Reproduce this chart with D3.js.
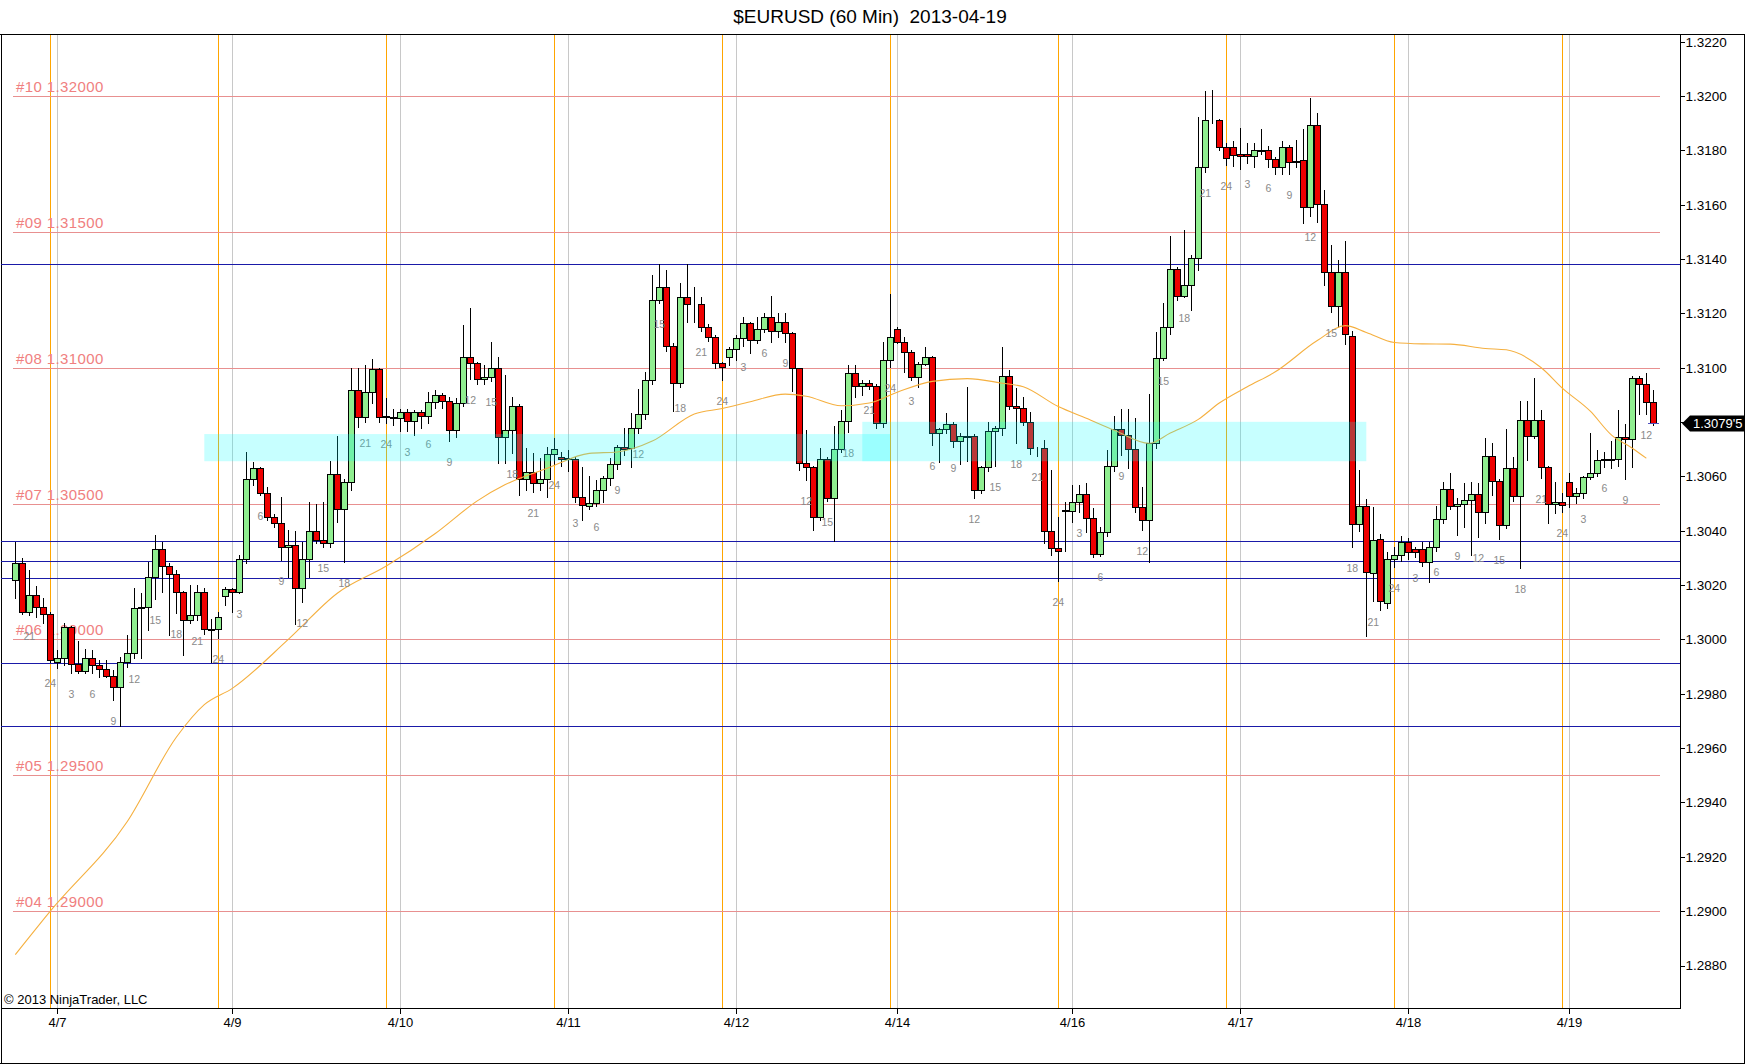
<!DOCTYPE html>
<html><head><meta charset="utf-8">
<script src="https://cdn.jsdelivr.net/npm/d3@7"></script>
<style>body{margin:0;background:#fff}svg{display:block}</style>
</head><body>
<svg id="c" width="1752" height="1064"></svg>
<script>
// ---------------- DATA ----------------
const title = "$EURUSD (60 Min)  2013-04-19";
const firstHour = 19; // hour of candle 0
const open = [
1.30219,1.30280,1.30101,1.30163,1.30118,1.30093,1.29916,1.29931,1.30045,1.29910,
1.29883,1.29933,1.29906,1.29890,1.29867,1.29824,1.29917,1.29949,1.30115,1.30118,
1.30231,1.30333,1.30271,1.30240,1.30174,1.30072,1.30090,1.30174,1.30037,1.30037,
1.30160,1.30184,1.30176,1.30295,1.30589,1.30630,1.30540,1.30452,1.30427,1.30339,
1.30348,1.30188,1.30295,1.30399,1.30366,1.30354,1.30609,1.30479,1.30578,1.30918,
1.30820,1.30910,1.30995,1.30822,1.30814,1.30814,1.30838,1.30805,1.30838,1.30822,
1.30875,1.30901,1.30878,1.30771,1.30872,1.31041,1.31016,1.30957,1.30967,1.30998,
1.30746,1.30771,1.30859,1.30589,1.30618,1.30577,1.30589,1.30681,1.30673,1.30667,
1.30663,1.30523,1.30493,1.30503,1.30550,1.30593,1.30644,1.30707,1.30703,1.30777,
1.30829,1.30955,1.31249,1.31296,1.31081,1.30943,1.31262,1.31235,1.31235,1.31149,
1.31114,1.31016,1.31041,1.31068,1.31108,1.31164,1.31102,1.31142,1.31186,1.31135,
1.31170,1.31127,1.30998,1.30648,1.30634,1.30450,1.30663,1.30522,1.30700,1.30805,
1.30979,1.30931,1.30945,1.30931,1.30798,1.31029,1.31142,1.31096,1.31059,1.30967,
1.31013,1.31038,1.30761,1.30773,1.30792,1.30730,1.30749,1.30748,1.30550,1.30636,
1.30768,1.30777,1.30969,1.30860,1.30853,1.30799,1.30706,1.30703,1.30399,1.30338,
1.30473,1.30473,1.30507,1.30534,1.30448,1.30313,1.30394,1.30638,1.30773,1.30752,
1.30700,1.30489,1.30439,1.30722,1.31037,1.31149,1.31362,1.31264,1.31305,1.31403,
1.31738,1.31912,1.31912,1.31811,1.31813,1.31786,1.31786,1.31780,1.31801,1.31800,
1.31770,1.31737,1.31811,1.31756,1.31764,1.31590,1.31892,1.31602,1.31352,1.31227,
1.31352,1.31118,1.30424,1.30491,1.30245,1.30368,1.30134,1.30295,1.30311,1.30357,
1.30332,1.30332,1.30286,1.30339,1.30442,1.30553,1.30491,1.30499,1.30513,1.30534,
1.30470,1.30675,1.30583,1.30421,1.30630,1.30528,1.30808,1.30749,1.30808,1.30634,
1.30499,1.30507,1.30578,1.30528,1.30538,1.30597,1.30612,1.30661,1.30664,1.30663,
1.30746,1.30737,1.30961,1.30940,1.30875];
const high = [
1.30360,1.30299,1.30256,1.30197,1.30151,1.30100,1.29960,1.30062,1.30050,1.29994,
1.29964,1.29961,1.29924,1.29924,1.29888,1.29937,1.30016,1.30188,1.30170,1.30286,
1.30385,1.30360,1.30280,1.30255,1.30180,1.30200,1.30200,1.30190,1.30074,1.30102,
1.30192,1.30190,1.30311,1.30691,1.30654,1.30636,1.30562,1.30460,1.30526,1.30403,
1.30400,1.30360,1.30507,1.30498,1.30507,1.30657,1.30749,1.30590,1.30998,1.30998,
1.31010,1.31031,1.31000,1.30888,1.30847,1.30847,1.30847,1.30844,1.30844,1.30912,
1.30918,1.30906,1.30894,1.30888,1.31157,1.31219,1.31020,1.31010,1.31096,1.31041,
1.30973,1.30894,1.30865,1.30703,1.30685,1.30666,1.30710,1.30740,1.30690,1.30697,
1.30670,1.30636,1.30600,1.30587,1.30600,1.30666,1.30716,1.30777,1.30832,1.30921,
1.30986,1.31341,1.31381,1.31360,1.31090,1.31311,1.31381,1.31299,1.31262,1.31160,
1.31120,1.31022,1.31078,1.31120,1.31188,1.31170,1.31188,1.31200,1.31264,1.31200,
1.31203,1.31133,1.31000,1.30771,1.30640,1.30704,1.30670,1.30786,1.30845,1.31010,
1.31010,1.30955,1.30955,1.30940,1.31096,1.31272,1.31150,1.31115,1.31065,1.31020,
1.31078,1.31045,1.30780,1.30832,1.30800,1.30760,1.30928,1.30755,1.30640,1.30802,
1.30785,1.31078,1.30992,1.30924,1.30893,1.30838,1.30710,1.30734,1.30624,1.30452,
1.30505,1.30568,1.30568,1.30574,1.30482,1.30415,1.30699,1.30822,1.30850,1.30850,
1.30814,1.30562,1.30902,1.31133,1.31237,1.31485,1.31370,1.31507,1.31415,1.31924,
1.32019,1.32022,1.31915,1.31826,1.31833,1.31883,1.31829,1.31829,1.31877,1.31816,
1.31775,1.31833,1.31820,1.31837,1.31880,1.31994,1.31936,1.31653,1.31452,1.31398,
1.31465,1.31137,1.30622,1.30518,1.30488,1.30387,1.30321,1.30341,1.30379,1.30374,
1.30340,1.30360,1.30360,1.30491,1.30581,1.30612,1.30520,1.30575,1.30581,1.30575,
1.30740,1.30724,1.30590,1.30773,1.30670,1.30878,1.30878,1.30961,1.30845,1.30640,
1.30581,1.30538,1.30612,1.30556,1.30602,1.30761,1.30697,1.30690,1.30732,1.30845,
1.30793,1.30970,1.30970,1.30980,1.30918];
const low = [
1.30154,1.30095,1.30090,1.30084,1.30059,1.29918,1.29894,1.29906,1.29875,1.29878,
1.29878,1.29876,1.29863,1.29863,1.29777,1.29680,1.29900,1.29930,1.29930,1.30035,
1.30150,1.30176,1.30016,1.30096,1.29943,1.30060,1.30070,1.30020,1.29918,1.30004,
1.30127,1.30102,1.30170,1.30280,1.30568,1.30530,1.30440,1.30415,1.30292,1.30231,
1.30057,1.30139,1.30231,1.30354,1.30340,1.30340,1.30434,1.30286,1.30550,1.30783,
1.30800,1.30869,1.30800,1.30798,1.30790,1.30768,1.30768,1.30753,1.30777,1.30798,
1.30851,1.30851,1.30732,1.30746,1.30860,1.30960,1.30940,1.30940,1.30950,1.30648,
1.30648,1.30685,1.30532,1.30550,1.30544,1.30550,1.30525,1.30645,1.30640,1.30620,
1.30505,1.30440,1.30480,1.30490,1.30507,1.30570,1.30629,1.30680,1.30636,1.30759,
1.30810,1.30940,1.31240,1.31060,1.30842,1.30930,1.31170,1.31170,1.31135,1.31100,
1.31000,1.30955,1.31010,1.31029,1.31080,1.31053,1.31090,1.31130,1.31096,1.31115,
1.31096,1.30916,1.30624,1.30587,1.30403,1.30440,1.30510,1.30364,1.30690,1.30765,
1.30891,1.30900,1.30920,1.30780,1.30783,1.31004,1.31090,1.30986,1.30956,1.30930,
1.31010,1.30716,1.30654,1.30760,1.30710,1.30646,1.30658,1.30522,1.30540,1.30620,
1.30640,1.30752,1.30850,1.30722,1.30790,1.30681,1.30676,1.30354,1.30311,1.30215,
1.30325,1.30433,1.30470,1.30396,1.30305,1.30308,1.30382,1.30620,1.30680,1.30630,
1.30470,1.30403,1.30286,1.30703,1.31030,1.31123,1.31250,1.31260,1.31212,1.31360,
1.31720,1.31900,1.31800,1.31746,1.31744,1.31730,1.31753,1.31740,1.31786,1.31740,
1.31713,1.31713,1.31713,1.31740,1.31532,1.31559,1.31535,1.31305,1.31204,1.31151,
1.31088,1.30341,1.30400,1.30013,1.30140,1.30107,1.30114,1.30268,1.30288,1.30295,
1.30303,1.30270,1.30210,1.30325,1.30430,1.30480,1.30385,1.30415,1.30311,1.30378,
1.30428,1.30532,1.30368,1.30410,1.30510,1.30262,1.30661,1.30740,1.30593,1.30428,
1.30467,1.30470,1.30489,1.30504,1.30520,1.30590,1.30600,1.30635,1.30630,1.30640,
1.30589,1.30634,1.30830,1.30830,1.30790];
const close = [
1.30280,1.30101,1.30163,1.30118,1.30093,1.29924,1.29930,1.30045,1.29910,1.29883,
1.29933,1.29906,1.29890,1.29867,1.29824,1.29917,1.29949,1.30115,1.30118,1.30231,
1.30333,1.30271,1.30240,1.30174,1.30072,1.30090,1.30174,1.30037,1.30035,1.30084,
1.30186,1.30176,1.30295,1.30589,1.30630,1.30540,1.30452,1.30427,1.30339,1.30348,
1.30188,1.30295,1.30399,1.30366,1.30354,1.30609,1.30479,1.30578,1.30918,1.30820,
1.30910,1.30995,1.30820,1.30818,1.30818,1.30838,1.30805,1.30838,1.30822,1.30875,
1.30901,1.30878,1.30771,1.30872,1.31041,1.31016,1.30957,1.30967,1.30998,1.30746,
1.30771,1.30859,1.30589,1.30618,1.30577,1.30589,1.30681,1.30700,1.30664,1.30663,
1.30523,1.30495,1.30503,1.30550,1.30593,1.30644,1.30707,1.30701,1.30777,1.30829,
1.30955,1.31249,1.31296,1.31081,1.30943,1.31262,1.31235,1.31233,1.31149,1.31114,
1.31016,1.31002,1.31068,1.31108,1.31164,1.31102,1.31142,1.31186,1.31135,1.31170,
1.31127,1.30998,1.30648,1.30634,1.30450,1.30663,1.30522,1.30700,1.30805,1.30979,
1.30931,1.30945,1.30931,1.30798,1.31029,1.31115,1.31096,1.31059,1.30967,1.31013,
1.31038,1.30761,1.30773,1.30792,1.30730,1.30749,1.30746,1.30550,1.30636,1.30768,
1.30777,1.30969,1.30860,1.30853,1.30799,1.30706,1.30703,1.30399,1.30338,1.30325,
1.30475,1.30507,1.30534,1.30448,1.30313,1.30394,1.30638,1.30773,1.30752,1.30700,
1.30489,1.30439,1.30722,1.31037,1.31149,1.31362,1.31264,1.31305,1.31403,1.31738,
1.31912,1.31910,1.31811,1.31773,1.31782,1.31781,1.31778,1.31800,1.31799,1.31770,
1.31737,1.31811,1.31756,1.31762,1.31590,1.31892,1.31602,1.31352,1.31227,1.31352,
1.31123,1.30424,1.30491,1.30248,1.30365,1.30141,1.30295,1.30311,1.30357,1.30323,
1.30323,1.30286,1.30339,1.30442,1.30553,1.30491,1.30499,1.30513,1.30534,1.30470,
1.30675,1.30583,1.30421,1.30630,1.30528,1.30808,1.30749,1.30808,1.30634,1.30499,
1.30507,1.30495,1.30528,1.30538,1.30597,1.30612,1.30661,1.30663,1.30662,1.30746,
1.30737,1.30961,1.30940,1.30875,1.30795];

// moving average, read at sample bars
const maIdx = [0,5,16,23,27,31,39,46,53,60,66,70,76,82,86,91,97,101,105,110,113,118,122,126,131,136,141,144,149,153,157,162,165,169,172,176,180,186,190,193,197,201,205,210,213,218,221,225,228,231,233];
const maVal = [1.28840,1.29000,1.29330,1.29640,1.29760,1.29820,1.30000,1.30170,1.30270,1.30390,1.30510,1.30570,1.30630,1.30685,1.30690,1.30730,1.30830,1.30850,1.30875,1.30903,1.30895,1.30860,1.30870,1.30910,1.30950,1.30960,1.30943,1.30930,1.30857,1.30814,1.30770,1.30722,1.30760,1.30810,1.30870,1.30930,1.30985,1.31100,1.31155,1.31130,1.31093,1.31088,1.31087,1.31071,1.31066,1.31000,1.30925,1.30840,1.30753,1.30704,1.30667];

const levelVals = [1.3200,1.3150,1.3100,1.3050,1.3000,1.2950,1.2900];
const levelNames = ["#10 1.32000","#09 1.31500","#08 1.31000","#07 1.30500","#06 1.30000","#05 1.29500","#04 1.29000"];
const blueVals = [1.31381,1.30361,1.30288,1.30225,1.29912,1.29680];
const zoneFrom = [27,121], zoneTo = [125,193];
const zoneHi = [1.30756,1.30801], zoneLo = [1.30656,1.30656];
const sessionIdx = [5,29,53,77,101,125,149,173,197,221];
const dateIdx = [6,31,55,79,103,126,151,175,199,222];
const dateLabels = ["4/7","4/9","4/10","4/11","4/12","4/14","4/16","4/17","4/18","4/19"];
const yTicks = [1.2880,1.2900,1.2920,1.2940,1.2960,1.2980,1.3000,1.3020,1.3040,1.3060,1.3080,1.3100,1.3120,1.3140,1.3160,1.3180,1.3200,1.3220];
const lastLabel = "1.3079'5";
const copyright = "\u00A9 2013 NinjaTrader, LLC";

// ---------------- DRAW ----------------
const FONT = "'Liberation Sans', Arial, sans-serif";
const svg = d3.select("#c").style("font-family", FONT);
const P = {l:1, r:1680, t:35, b:1008};
const n = open.length;
const x = d3.scaleLinear().domain([0, n-1]).range([15.3, 15.3 + 7*(n-1)]);
const y = d3.scaleLinear().domain([1.2880, 1.3220]).range([965.5, 41.7]);
const X = i => Math.round(x(i));
const Y = v => Math.round(y(v));

svg.append("rect").attr("width",1752).attr("height",1064).attr("fill","#fff");

// title
svg.append("text").attr("x",870).attr("y",23).attr("text-anchor","middle")
  .attr("font-size",19).attr("fill","#000").style("white-space","pre").text(title);

// frame
const fr = svg.append("g").attr("stroke","#000").attr("stroke-width",1).attr("shape-rendering","crispEdges");
fr.append("line").attr("x1",0).attr("x2",1744.5).attr("y1",34.5).attr("y2",34.5);
fr.append("line").attr("x1",1.5).attr("x2",1.5).attr("y1",34.5).attr("y2",1063.5);
fr.append("line").attr("x1",0).attr("x2",1744.5).attr("y1",1063.5).attr("y2",1063.5);
fr.append("line").attr("x1",1744.5).attr("x2",1744.5).attr("y1",34.5).attr("y2",1063.5);

const plot = svg.append("g");
// vertical lines
plot.selectAll(".vs").data(sessionIdx).join("line")
  .attr("x1",d=>X(d)+0.5).attr("x2",d=>X(d)+0.5).attr("y1",P.t).attr("y2",P.b)
  .attr("stroke","#ffa500").attr("stroke-width",1).attr("shape-rendering","crispEdges");
plot.selectAll(".vd").data(dateIdx).join("line")
  .attr("x1",d=>X(d)+0.5).attr("x2",d=>X(d)+0.5).attr("y1",P.t).attr("y2",P.b)
  .attr("stroke","#c8c8c8").attr("stroke-width",1).attr("shape-rendering","crispEdges");

// level lines
plot.selectAll(".lv").data(levelVals).join("line")
  .attr("x1",13).attr("x2",1660).attr("y1",d=>Y(d)+0.5).attr("y2",d=>Y(d)+0.5)
  .attr("stroke","#e89090").attr("stroke-width",1).attr("shape-rendering","crispEdges");
plot.selectAll(".lt").data(levelVals).join("text")
  .attr("x",16).attr("y",d=>Y(d)-4).attr("font-size",15).attr("fill","#f08080")
  .attr("letter-spacing",0.4)
  .text((d,i)=>levelNames[i]);
// blue lines
plot.selectAll(".bl").data(blueVals).join("line")
  .attr("x1",P.l).attr("x2",P.r).attr("y1",d=>Y(d)+0.5).attr("y2",d=>Y(d)+0.5)
  .attr("stroke","#1a1aa8").attr("stroke-width",1).attr("shape-rendering","crispEdges");

// candles
const idx = d3.range(n);
const cg = plot.append("g").attr("shape-rendering","crispEdges");
cg.selectAll(".wk").data(idx).join("line")
  .attr("x1",i=>X(i)+0.5).attr("x2",i=>X(i)+0.5)
  .attr("y1",i=>Y(high[i])).attr("y2",i=>Y(low[i])+1)
  .attr("stroke","#000").attr("stroke-width",1);
cg.selectAll(".bd").data(idx).join("rect")
  .attr("x",i=>X(i)-2.5).attr("width",6)
  .attr("y",i=>Y(Math.max(open[i],close[i]))+0.5)
  .attr("height",i=>Math.max(0, Y(Math.min(open[i],close[i]))-Y(Math.max(open[i],close[i]))))
  .attr("fill",i=>close[i]>=open[i] ? "#90ee90" : "#ee0000")
  .attr("stroke","#000").attr("stroke-width",1);

// moving average
const maLine = d3.line().x((d,k)=>x(maIdx[k])).y(d=>y(d)).curve(d3.curveMonotoneX);
plot.append("path").attr("d",maLine(maVal)).attr("fill","none")
  .attr("stroke","#f5b040").attr("stroke-width",1.1);

// hour labels
const lab = idx.filter(i => ((i + firstHour) % 3) === 0);
plot.selectAll(".hl").data(lab).join("text")
  .attr("x",i=>x(i)).attr("y",i=>y(low[i])+25).attr("text-anchor","middle")
  .attr("font-size",10.5).attr("fill","#8a8a8a")
  .text(i=>{const h=(i+firstHour)%24; return h===0?24:h;});

// zones
plot.selectAll(".zn").data(zoneFrom).join("rect")
  .attr("x",(d,k)=>x(zoneFrom[k])).attr("width",(d,k)=>x(zoneTo[k])-x(zoneFrom[k]))
  .attr("y",(d,k)=>y(zoneHi[k])).attr("height",(d,k)=>y(zoneLo[k])-y(zoneHi[k]))
  .attr("fill","#00ffff").attr("opacity",0.22);

// last close marker
plot.append("line").attr("x1",X(n-1)-5).attr("x2",X(n-1)+6)
  .attr("y1",Y(close[n-1])+0.5).attr("y2",Y(close[n-1])+0.5)
  .attr("stroke","#5050c0").attr("stroke-width",1).attr("shape-rendering","crispEdges");

// axes
const ly = y(close[n-1]);
const ya = svg.append("g").attr("transform",`translate(${P.r+0.5},0)`)
  .call(d3.axisRight(y).tickValues(yTicks).tickSize(4).tickSizeOuter(0)
    .tickFormat(d => Math.abs(y(d)-ly) < 12 ? "" : d3.format(".4f")(d)));
ya.select(".domain").remove();
ya.selectAll("line").attr("stroke","#000").attr("shape-rendering","crispEdges");
ya.selectAll("text").attr("font-family",FONT).attr("font-size",13.5).attr("fill","#000").attr("x",5);
svg.append("line").attr("x1",P.r+0.5).attr("x2",P.r+0.5).attr("y1",P.t).attr("y2",P.b+0.5)
  .attr("stroke","#000").attr("shape-rendering","crispEdges");

const xa = svg.append("g").attr("transform",`translate(0,${P.b+0.5})`)
  .call(d3.axisBottom(x).tickValues(dateIdx).tickSize(5).tickSizeOuter(0)
  .tickFormat((d,k)=>dateLabels[k]));
xa.select(".domain").remove();
xa.selectAll(".tick").attr("transform",d=>`translate(${X(d)+0.5},0)`);
xa.selectAll("line").attr("stroke","#000").attr("shape-rendering","crispEdges");
xa.selectAll("text").attr("font-family",FONT).attr("font-size",13).attr("fill","#000").attr("y",9);
svg.append("line").attr("x1",P.l).attr("x2",P.r+0.5).attr("y1",P.b+0.5).attr("y2",P.b+0.5)
  .attr("stroke","#000").attr("shape-rendering","crispEdges");

// last price label
svg.append("path").attr("d",`M${P.r+2},${ly} L${P.r+10},${ly-8} L1744,${ly-8} L1744,${ly+8} L${P.r+10},${ly+8} Z`).attr("fill","#000");
svg.append("text").attr("x",P.r+13).attr("y",ly+4.5).attr("font-size",13).attr("fill","#fff").text(lastLabel);

// copyright
svg.append("text").attr("x",4).attr("y",1004).attr("font-size",13).attr("fill","#000").text(copyright);
</script>
</body></html>
